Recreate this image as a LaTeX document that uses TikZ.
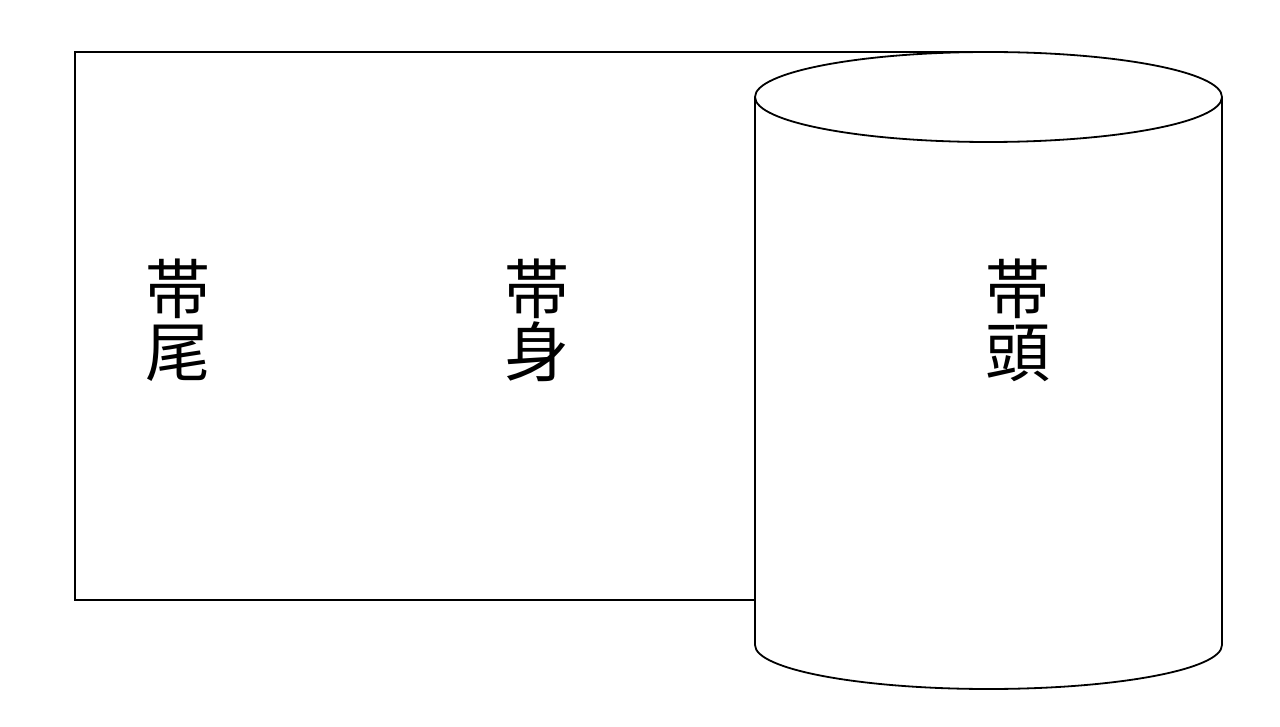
\documentclass[tikz,border=0pt]{standalone}
\usepackage{fontspec}
\newfontfamily\jpfont{Noto Sans CJK JP}
\begin{document}
\begin{tikzpicture}[x=1pt,y=-1pt,
  outline/.style={draw=black,line width=1.8pt},
  label/.style={font=\jpfont\fontsize{65pt}{63pt}\selectfont,align=center,inner sep=0pt}]
\useasboundingbox (0,0) rectangle (1280,727);
% belt body rectangle
\draw[outline] (75,52) rectangle (980,600);
% cylinder (belt head roll)
\fill[white] (755,97) -- (755,645) arc[start angle=180,end angle=360,x radius=233.5pt,y radius=44pt] -- (1222,97) -- cycle;
\fill[white] (988.5,97) ellipse[x radius=233.5pt,y radius=45pt];
\draw[outline] (755,97) -- (755,645) arc[start angle=180,end angle=360,x radius=233.5pt,y radius=44pt] -- (1222,97);
\draw[outline] (988.5,97) ellipse[x radius=233.5pt,y radius=45pt];
% labels
\node[label] (tail) at (178,320) {帯\\尾};
\node[label] (body) at (537,320) {帯\\身};
\node[label] (head) at (1018,320) {帯\\頭};
\end{tikzpicture}
\end{document}
